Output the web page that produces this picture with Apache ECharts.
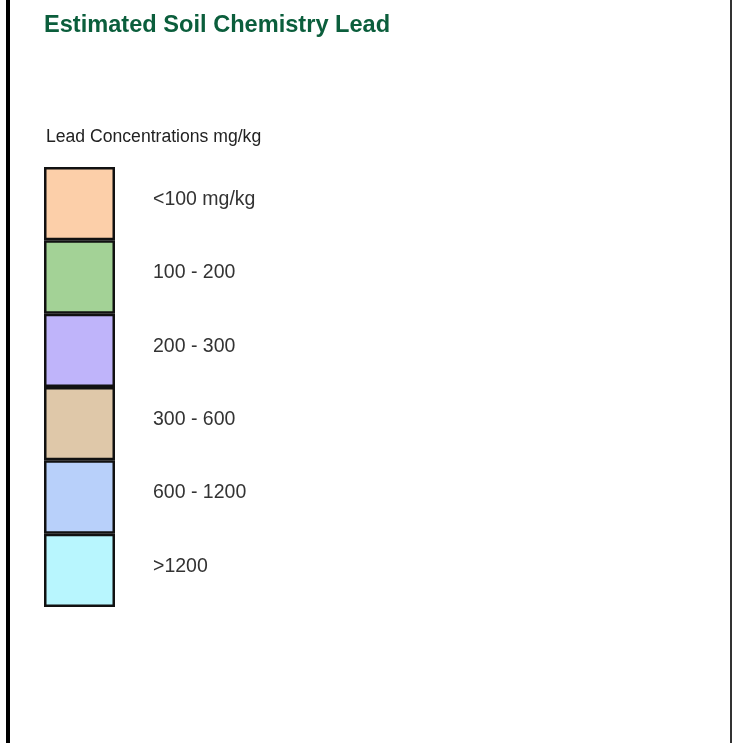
<!DOCTYPE html>
<html><head><meta charset="utf-8">
<script src="https://cdn.jsdelivr.net/npm/echarts@6/dist/echarts.min.js"></script>
<style>html,body{margin:0;padding:0;background:#fff}#c{width:732px;height:743px}</style>
</head><body><div id="c"></div>
<script>
const classLabels = ['<100 mg/kg', '100 - 200', '200 - 300', '300 - 600', '600 - 1200', '>1200'];
const classValues = [1, 1, 1, 1, 1, 1];
const classColors = ['#FCCFA9', '#A3D296', '#BFB4FA', '#DFC8A9', '#B8D0FA', '#B8F6FE'];
const titleText = 'Estimated Soil Chemistry Lead';
const legendTitle = 'Lead Concentrations mg/kg';

const chart = echarts.init(document.getElementById('c'), null, {renderer: 'canvas'});
chart.setOption({
  animation: false,
  backgroundColor: '#fff',
  title: [
    {text: titleText, left: 39, top: 8, textStyle: {fontFamily: 'Liberation Sans, Arial', fontSize: 23.6, fontWeight: 'bold', color: '#0B5E3C'}},
    {text: legendTitle, left: 41, top: 123, textStyle: {fontFamily: 'Liberation Sans, Arial', fontSize: 17.6, fontWeight: 'normal', color: '#222'}}
  ],
  grid: {left: 44, top: 167, width: 71, height: 440, containLabel: false},
  xAxis: {type: 'value', min: 0, max: 1, show: false},
  yAxis: {type: 'category', data: classLabels, inverse: true, show: false},
  series: [{
    type: 'bar',
    barWidth: '100%',
    barCategoryGap: 0,
    data: classValues.map((v, i) => ({value: v, itemStyle: {color: classColors[i]}})),
    itemStyle: {borderColor: '#111', borderWidth: 2.5},
    label: {
      show: true, position: 'right', distance: 38, offset: [0, -4],
      formatter: p => classLabels[p.dataIndex],
      fontFamily: 'Liberation Sans, Arial', fontSize: 19.5, color: '#333'
    }
  }],
  graphic: [
    {type: 'rect', shape: {x: 6, y: 0, width: 4, height: 743}, style: {fill: '#000'}, silent: true},
    {type: 'rect', shape: {x: 730, y: 0, width: 2, height: 743}, style: {fill: '#333'}, silent: true}
  ]
});
</script></body></html>
